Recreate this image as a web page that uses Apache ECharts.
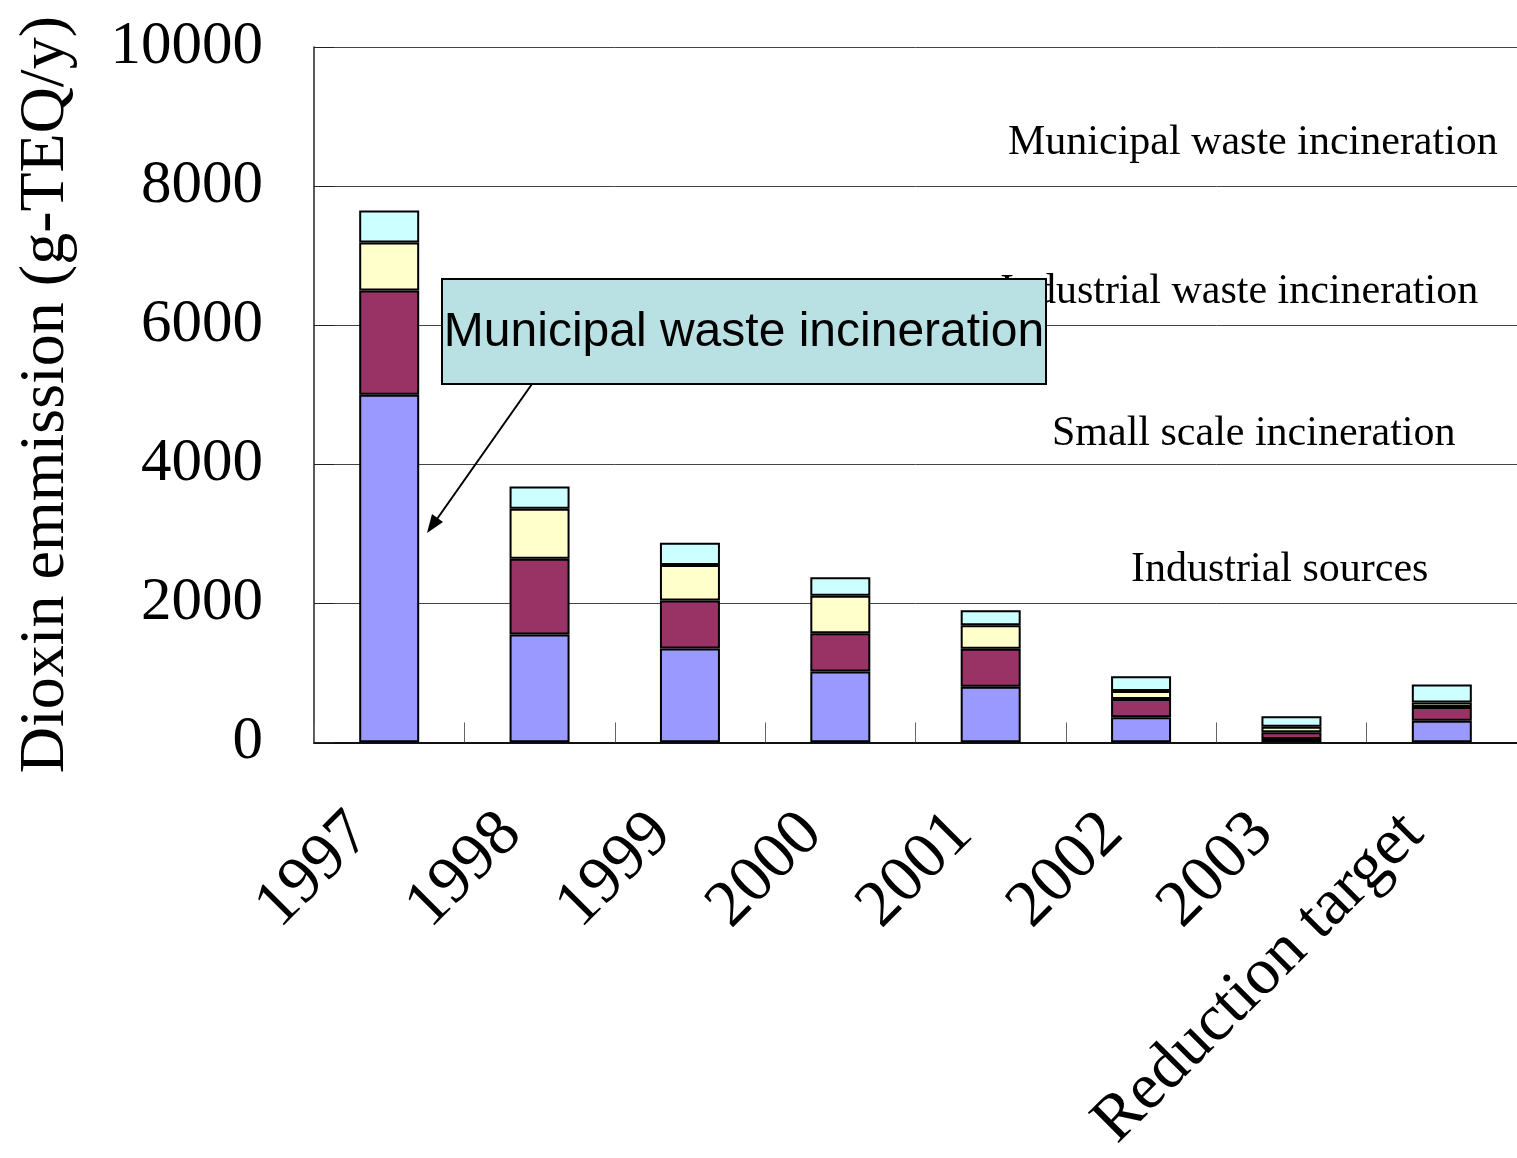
<!DOCTYPE html>
<html>
<head>
<meta charset="utf-8">
<script src="https://cdn.jsdelivr.net/npm/echarts@6/dist/echarts.min.js"></script>
<style>
html,body{margin:0;padding:0;background:#fff;}
#chart{width:1517px;height:1158px;}
</style>
</head>
<body>
<div id="chart"></div>
<script>
var categories = ['1997', '1998', '1999', '2000', '2001', '2002', '2003', 'Reduction target'];
var municipalWaste = [5000, 1550, 1350, 1020, 800, 360, 50, 310];
var industrialWaste = [1500, 1090, 690, 550, 545, 265, 95, 200];
var smallScale = [690, 720, 510, 540, 340, 115, 80, 62];
var industrialSources = [460, 320, 320, 265, 215, 210, 150, 262];
var yTicks = [0, 2000, 4000, 6000, 8000, 10000];

var serif = '"Liberation Serif", "DejaVu Serif", serif';
var chart = echarts.init(document.getElementById('chart'), null, {renderer: 'canvas'});

function bar(name, data, color) {
  return {
    name: name, type: 'bar', stack: 'total', data: data, barWidth: 60,
    itemStyle: {color: color, borderColor: '#000', borderWidth: 2},
    emphasis: {disabled: true}
  };
}

var option = {
  animation: false,
  backgroundColor: '#fff',
  grid: {left: 314, right: 0, top: 47, bottom: 413, containLabel: false},
  xAxis: {
    type: 'category', data: categories, boundaryGap: true,
    axisLine: {lineStyle: {color: '#111', width: 2}},
    axisTick: {show: true, inside: true, length: 20, lineStyle: {color: '#666', width: 1}},
    axisLabel: {rotate: 45, margin: 53, padding: [0, 40, 0, 0], color: '#000', fontFamily: serif, fontSize: 66, interval: 0}
  },
  yAxis: {
    type: 'value', min: yTicks[0], max: yTicks[yTicks.length - 1], interval: 2000,
    name: 'Dioxin emmission (g-TEQ/y)', nameLocation: 'middle', nameGap: 236,
    nameTextStyle: {color: '#000', fontFamily: serif, fontSize: 64},
    axisLine: {show: true, lineStyle: {color: '#222', width: 1.5}},
    axisTick: {show: true, inside: true, length: 20, lineStyle: {color: '#222'}},
    axisLabel: {margin: 51, color: '#000', fontFamily: serif, fontSize: 61, formatter: function (v) { return String(v); }},
    splitLine: {show: true, lineStyle: {color: '#444', width: 1}}
  },
  series: [
    bar('Municipal waste incineration', municipalWaste, '#9999FF'),
    bar('Industrial waste incineration', industrialWaste, '#993366'),
    bar('Small scale incineration', smallScale, '#FFFFCC'),
    bar('Industrial sources', industrialSources, '#CCFFFF')
  ],
  graphic: [
    {type: 'text', left: 1008, top: 122, z: 10, style: {text: 'Municipal waste incineration', font: '42px ' + serif, fill: '#000'}},
    {type: 'text', left: 1000, top: 271, z: 10, style: {text: 'Industrial waste incineration', font: '42px ' + serif, fill: '#000'}},
    {type: 'text', left: 1052, top: 413, z: 10, style: {text: 'Small scale incineration', font: '42px ' + serif, fill: '#000'}},
    {type: 'text', left: 1131, top: 549, z: 10, style: {text: 'Industrial sources', font: '42px ' + serif, fill: '#000'}},
    {type: 'rect', z: 20, shape: {x: 442, y: 279, width: 604, height: 105},
     style: {fill: '#B9E0E3', stroke: '#000', lineWidth: 2}},
    {type: 'text', z: 21, x: 744, y: 333,
     style: {text: 'Municipal waste incineration', font: '48px "Liberation Sans", Arial, sans-serif', fill: '#000', textAlign: 'center', textVerticalAlign: 'middle'}},
    {type: 'line', z: 20, shape: {x1: 532, y1: 384, x2: 437, y2: 519}, style: {stroke: '#000', lineWidth: 2}},
    {type: 'polygon', z: 20, shape: {points: [[427, 533], [443, 522], [432, 514]]}, style: {fill: '#000'}}
  ]
};
chart.setOption(option);
</script>
</body>
</html>
